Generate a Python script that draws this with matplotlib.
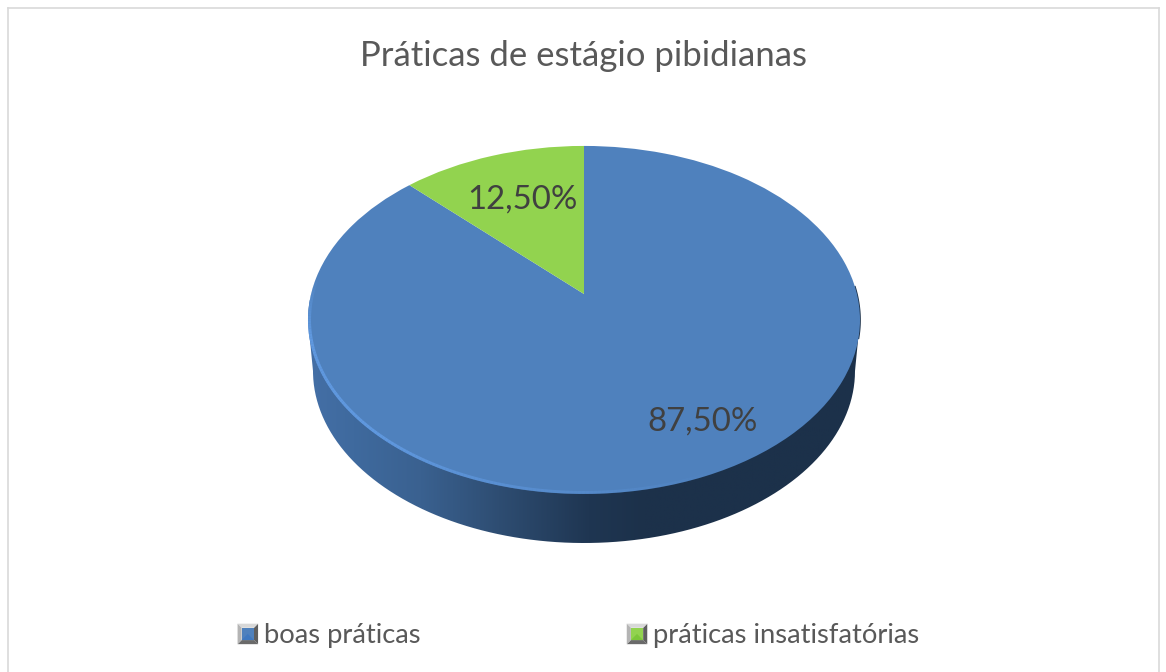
import numpy as np
import matplotlib
matplotlib.use("Agg")
import matplotlib.pyplot as plt
from matplotlib.collections import LineCollection
from matplotlib.colors import LinearSegmentedColormap
from matplotlib.legend_handler import HandlerBase
from matplotlib.patches import Polygon, PathPatch
from matplotlib.path import Path
from matplotlib.transforms import Transform

plt.rcParams["font.family"] = ["Lato", "DejaVu Sans"]

title = "Práticas de estágio pibidianas"
labels = ["boas práticas", "práticas insatisfatórias"]
values = [87.5, 12.5]
colors = ["#4f81bd", "#92d34f"]
inner_colors = ["#3f78c0", "#7cc63a"]

W, H = 1166, 672
CX, CY = 584, 320
RX, RY = 276, 174
TILT = 0.149     # the pie centre sits above the middle of the ellipse
APEX = 26


class Tilt(Transform):
    # maps the unit circle of ax.pie onto the tilted disc, in pixels
    input_dims = output_dims = 2

    def transform_non_affine(self, xy):
        xy = np.asarray(xy)
        d = 1 + TILT * xy[:, 1]
        a = RX * np.sqrt(1 - TILT ** 2)
        return np.column_stack([CX + a * xy[:, 0] / d,
                                CY - (RY * xy[:, 1] + APEX) / d])

    def transform_path_non_affine(self, path):
        return Path(self.transform_non_affine(path.vertices), path.codes)


class BevelHandler(HandlerBase):
    # little bevelled square used by the legend
    def create_artists(self, legend, orig, x0, y0, width, height, fontsize, trans):
        s = 20.5 * 0.72
        x, y = x0 + (width - s) / 2, y0 + (height - s) / 2
        m = s * 0.2
        o = [(x, y), (x + s, y), (x + s, y + s), (x, y + s)]
        i = [(x + m, y + m), (x + s - m, y + m), (x + s - m, y + s - m), (x + m, y + s - m)]
        sides = ["#6a6a6a", "#5f5f5f", "#d8d8d8", "#b4b4b4"]
        out = []
        for k, c in enumerate(sides):
            out.append(Polygon([o[k], o[(k + 1) % 4], i[(k + 1) % 4], i[k]], fc=c, ec="none", transform=trans))
        out.append(Polygon(i, fc=orig.get_facecolor(), ec="none", transform=trans))
        out.append(Polygon([i[0], i[1], (x + s / 2, y + s / 2)], fc=inner_colors[labels.index(orig.get_label())],
                           ec="none", transform=trans))
        return out


fig = plt.figure(figsize=(W / 100, H / 100), dpi=100)
ax = fig.add_axes([0, 0, 1, 1])

wedges, _ = ax.pie(values, colors=colors, startangle=90, counterclock=False,
                   wedgeprops=dict(linewidth=0), labels=None)
ax.set_aspect("auto")
ax.set_xlim(0, W)
ax.set_ylim(H, 0)
ax.set_axis_off()

tilt = Tilt() + ax.transData
for w, lab in zip(wedges, labels):
    w.set_transform(tilt)
    w.set_label(lab)
    w.set_zorder(3)

# frame of the chart, the bottom edge is cut off in the picture
ax_lines = dict(color="#d9d9d9", lw=1.2)
ax.plot([8, 8], [8, H], **ax_lines)
ax.plot([8, 1159], [8, 8], **ax_lines)
ax.plot([1159, 1159], [8, H], **ax_lines)

# side of the disc
t = np.linspace(0, np.pi, 200)
lower = np.column_stack([CX + 271 * np.cos(t), 371 + 172 * np.sin(t)])
upper = np.column_stack([CX + RX * np.cos(t + np.pi), CY + RY * np.sin(t + np.pi)])
side = PathPatch(Path(np.vstack([lower, upper, lower[:1]])), fc="none", ec="none", transform=ax.transData)
ax.add_patch(side)
side_cmap = LinearSegmentedColormap.from_list("side", [
    (0.0, "#446fa6"), (0.08, "#3f6a9e"), (0.2, "#3a6190"), (0.34, "#2e4d72"),
    (0.5, "#1f3652"), (0.6, "#1c314a"), (1.0, "#1c314a")])
im = ax.imshow(np.linspace(0, 1, 256)[None, :], extent=(308, 870, 560, 300), cmap=side_cmap,
               aspect="auto", zorder=1)
im.set_clip_path(side)
ax.set_xlim(0, W)
ax.set_ylim(H, 0)

# thin dark edge on the right of the top face
a = np.radians(np.linspace(-6, 11, 30))
ax.plot(CX + RX * np.cos(a), CY - RY * np.sin(a), color="#1c314a", lw=1.2, zorder=2)

# lighter rim along the lower left of the top face
a = np.radians(np.linspace(165, 300, 160))
rim = np.column_stack([CX + (RX - 1.5) * np.cos(a), CY - (RY - 1.5) * np.sin(a)])
segs = np.stack([rim[:-1], rim[1:]], axis=1)
deg = np.degrees(a[:-1])
fade = np.clip((300 - deg) / 80, 0, 1) * np.clip((deg - 165) / 20, 0, 1) * 0.85
rim_rgba = np.tile(matplotlib.colors.to_rgba("#639de6"), (len(segs), 1))
rim_rgba[:, 3] = fade
ax.add_collection(LineCollection(segs, colors=rim_rgba, linewidths=2.2, zorder=4))

# texts
fig.text(583 / W, 1 - 56 / H, title, ha="center", va="center", fontsize=25.05, color="#595959")
for v, (x, y) in zip(values, [(703, 422), (522, 200)]):
    fig.text(x / W, 1 - y / H, f"{v:.2f}%".replace(".", ","), ha="center", va="center",
             fontsize=23.7, color="#404040", zorder=5)

leg = ax.legend(wedges, labels, ncols=2, loc="center", frameon=False,
                bbox_to_anchor=(578 / W, 1 - 636 / H), bbox_transform=fig.transFigure,
                prop=dict(size=19.7), labelcolor="#595959",
                handler_map={wedges[0]: BevelHandler(), wedges[1]: BevelHandler()},
                handlelength=0.8, handletextpad=0.18, columnspacing=7.52)

fig.savefig("out.png", dpi=100)
